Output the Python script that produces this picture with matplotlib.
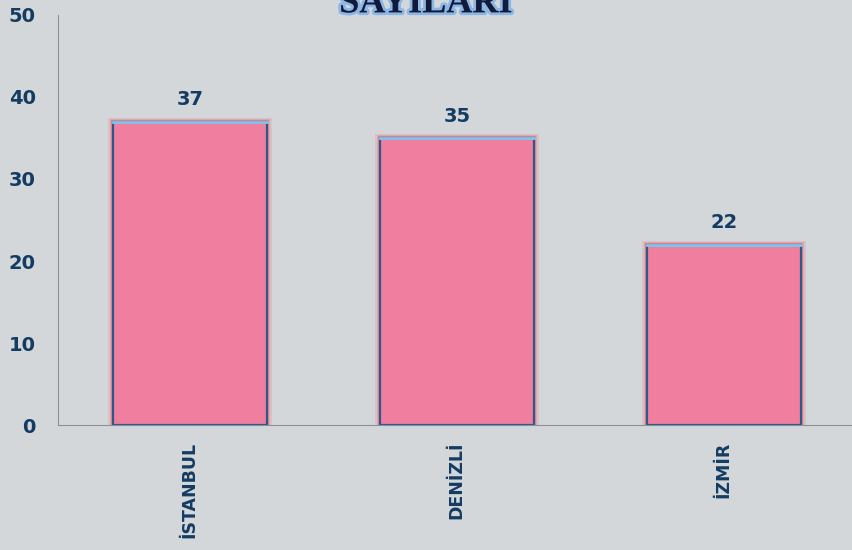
import matplotlib.pyplot as plt
import matplotlib.patheffects as pe

cities = ["İSTANBUL", "DENİZLİ", "İZMİR"]
counts = [37, 35, 22]
yticks = [0, 10, 20, 30, 40, 50]

bg = "#d3d7da"
navy = "#143c62"

fig = plt.figure(figsize=(8.52, 5.5), dpi=100, facecolor=bg)
ax = fig.add_axes([0.068, 0.227, 0.932, 0.746], facecolor=bg)

x = range(len(cities))
# red glow behind the bars
for w, dh, a in [(0.615, 0.45, 0.15), (0.60, 0.3, 0.25), (0.59, 0.2, 0.35)]:
    ax.bar(x, [c + dh for c in counts], width=w, color="#f2555f", alpha=a, linewidth=0)
bars = ax.bar(x, counts, width=0.577, color="#f07f9f", edgecolor="#2a5a8c", linewidth=1.6)
# light top edge
for b in bars:
    ax.plot([b.get_x(), b.get_x() + b.get_width()], [b.get_height(), b.get_height()],
            color="#7fc6ee", lw=2)

for i, c in enumerate(counts):
    ax.text(i, c + 1.5, str(c), ha="center", va="bottom", fontsize=14,
            fontweight="bold", color=navy)

ax.set_xlim(-0.494, 2.48)
ax.set_ylim(0, 50)
ax.set_yticks(yticks)
ax.set_yticklabels([str(t) for t in yticks], fontsize=14, fontweight="bold", color=navy)
ax.set_xticks(list(x))
ax.set_xticklabels(cities, rotation=90, fontsize=12.5, fontweight="bold", color=navy)
ax.tick_params(length=0, pad=16)
ax.tick_params(axis="x", pad=12)

for s in ["top", "right"]:
    ax.spines[s].set_visible(False)
ax.spines["left"].set_color("#8a9096")
ax.spines["bottom"].set_color("#8a9096")

fig.text(0.5, 0.993, "SAYILARI", ha="center", va="center", fontsize=26,
         fontweight="bold", family="Liberation Serif", color="#111a3a",
         path_effects=[pe.withStroke(linewidth=4, foreground="#6fa8e8", alpha=0.7)])

fig.savefig("out.png", dpi=100, facecolor=bg)
